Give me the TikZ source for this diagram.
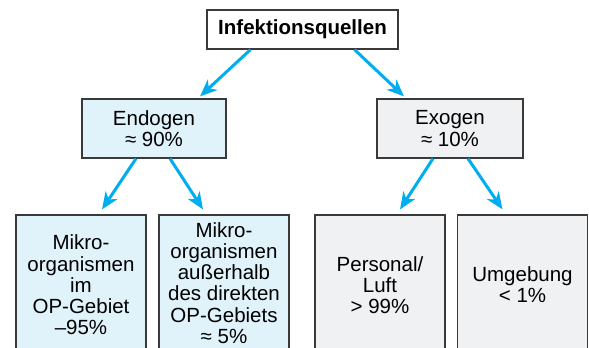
\documentclass[tikz,border=0pt]{standalone}
\usepackage{fontspec}
\setmainfont{Liberation Sans}
\usetikzlibrary{arrows.meta}
\definecolor{pfeilblau}{HTML}{00AEEF}
\definecolor{endoblau}{HTML}{E0F2FA}
\definecolor{exograu}{HTML}{F0F1F3}
\definecolor{rahmen}{HTML}{3A3A3A}
\begin{document}
\begin{tikzpicture}[x=1pt, y=-1pt,
    kasten/.style={draw=rahmen, line width=1.2pt, inner sep=0pt, align=center,
      font=\fontsize{20.5}{21.2}\selectfont},
    endo/.style={kasten, fill=endoblau},
    exo/.style={kasten, fill=exograu},
    pfeil/.style={draw=pfeilblau, line width=3pt,
      -{Stealth[length=17pt, width=14pt, inset=5pt]}}]
  \useasboundingbox (0,0) rectangle (589,348);
  \clip (0,0) rectangle (589,348);
  % Wurzel
  \node[kasten, fill=white, minimum width=191pt, minimum height=39pt,
    font=\fontsize{20.5}{21.2}\selectfont\bfseries] (quellen) at (302.5,29.5) {Infektionsquellen};
  % zweite Ebene
  \node[endo, minimum width=144pt, minimum height=59pt] (endogen) at (154,128.5) {Endogen\\≈ 90\%};
  \node[exo, minimum width=146pt, minimum height=59pt] (exogen) at (450,128.5) {Exogen\\≈ 10\%};
  % dritte Ebene (unten abgeschnitten)
  \node[endo, minimum width=130pt, minimum height=140pt] (opgebiet) at (81,285)
    {Mikro-\\organismen\\im\\OP-Gebiet\\–95\%};
  \node[endo, minimum width=130pt, minimum height=136pt] (ausserhalb) at (224,283)
    {Mikro-\\organismen\\außerhalb\\des direkten\\OP-Gebiets\\≈ 5\%};
  \node[exo, minimum width=130pt, minimum height=140pt] (personal) at (380,285)
    {Personal/\\Luft\\> 99\%};
  \node[exo, minimum width=130pt, minimum height=140pt] (umgebung) at (522.5,285)
    {Umgebung\\< 1\%};
  % Pfeile
  \draw[pfeil] ([xshift=-52pt]quellen.south) -- ([xshift=46pt, yshift=2pt]endogen.north);
  \draw[pfeil] ([xshift=52pt]quellen.south) -- ([xshift=-46pt, yshift=2pt]exogen.north);
  \draw[pfeil] ([xshift=-18pt]endogen.south) -- ([xshift=21pt, yshift=5pt]opgebiet.north);
  \draw[pfeil] ([xshift=16pt]endogen.south) -- ([xshift=-21pt, yshift=5pt]ausserhalb.north);
  \draw[pfeil] ([xshift=-17pt]exogen.south) -- ([xshift=20pt, yshift=5pt]personal.north);
  \draw[pfeil] ([xshift=18pt]exogen.south) -- ([xshift=-20pt, yshift=5pt]umgebung.north);
\end{tikzpicture}
\end{document}
